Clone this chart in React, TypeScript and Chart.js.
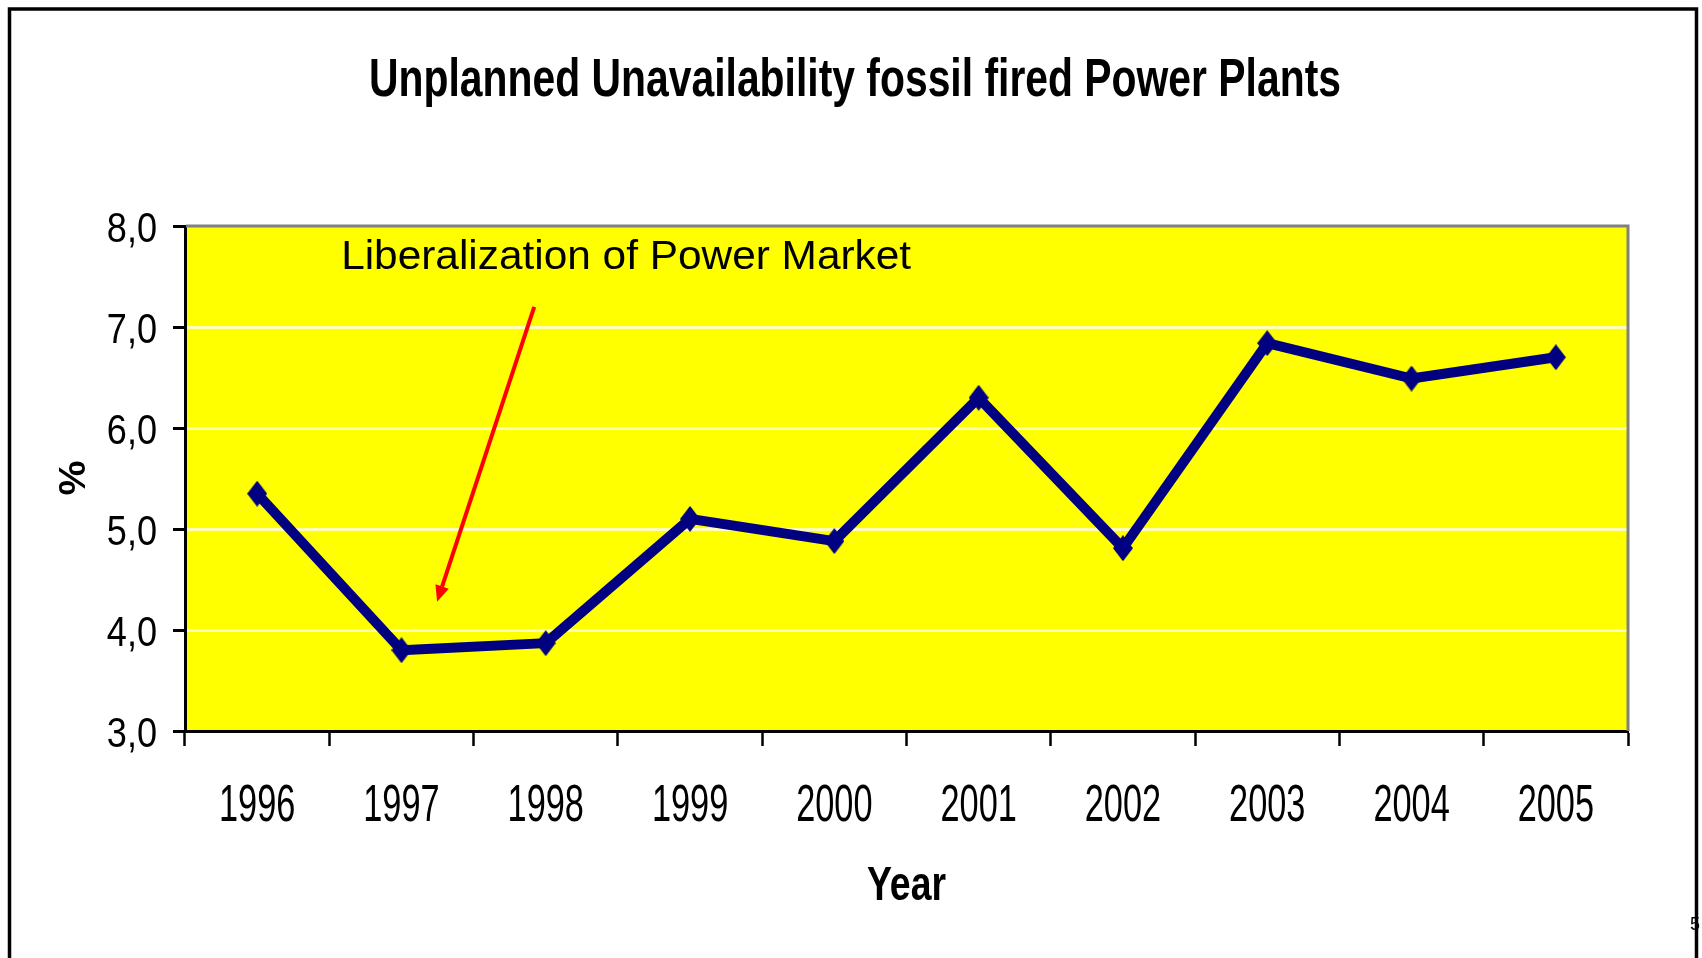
import React, { useEffect, useRef } from "react";
import { Chart, registerables } from "chart.js";

Chart.register(...registerables);

// ---------- data ----------
const years = ["1996", "1997", "1998", "1999", "2000", "2001", "2002", "2003", "2004", "2005"];
const unavailability = [5.35, 3.8, 3.87, 5.1, 4.88, 6.3, 4.81, 6.84, 6.49, 6.7];
const yMin = 3;
const yMax = 8;
const yStep = 1;

const chartTitle = "Unplanned Unavailability fossil fired Power Plants";
const xAxisTitle = "Year";
const yAxisTitle = "%";
const noteText = "Liberalization of Power Market";
// annotation anchors in data coordinates (category index, value)
const noteAnchor = { x: 0.582, y: 7.575 };
const arrowFrom = { x: 1.92, y: 7.2 };
const arrowTo = { x: 1.247, y: 4.28 };
const pageNumber = "5";

const FONT = '"Liberation Sans", Arial, Helvetica, sans-serif';

type TextOpts = {
  align?: CanvasTextAlign;
  scaleX?: number;
  fitWidth?: number;
  color?: string;
  rotate?: number;
};

function drawText(
  ctx: CanvasRenderingContext2D,
  text: string,
  x: number,
  y: number,
  font: string,
  opts: TextOpts = {}
) {
  ctx.save();
  ctx.font = font;
  const w = ctx.measureText(text).width;
  const sx = opts.fitWidth ? opts.fitWidth / w : opts.scaleX ?? 1;
  ctx.translate(x, y);
  if (opts.rotate) ctx.rotate(opts.rotate);
  ctx.scale(sx, 1);
  ctx.textAlign = opts.align ?? "left";
  ctx.textBaseline = "alphabetic";
  ctx.fillStyle = opts.color ?? "#000";
  ctx.fillText(text, 0, 0);
  ctx.restore();
}

function makeDiamond(): HTMLCanvasElement {
  const c = document.createElement("canvas");
  c.width = 20;
  c.height = 26;
  const g = c.getContext("2d")!;
  g.fillStyle = "#000080";
  g.beginPath();
  g.moveTo(10, 0);
  g.lineTo(20, 13);
  g.lineTo(10, 26);
  g.lineTo(0, 13);
  g.closePath();
  g.fill();
  return c;
}

const decorPlugin = {
  id: "decor",
  beforeDraw(chart: any) {
    const { ctx, chartArea: a } = chart;
    ctx.save();
    ctx.fillStyle = "#ffffff";
    ctx.fillRect(0, 0, chart.width, chart.height);
    ctx.fillStyle = "#FFFF00";
    ctx.fillRect(a.left, a.top, a.right - a.left, a.bottom - a.top);
    ctx.restore();
  },
  beforeDatasetsDraw(chart: any) {
    const { ctx, chartArea: a } = chart;
    ctx.save();
    ctx.strokeStyle = "#808080";
    ctx.lineWidth = 3;
    ctx.beginPath();
    ctx.moveTo(a.left + 1, a.top);
    ctx.lineTo(a.right, a.top);
    ctx.lineTo(a.right, a.bottom);
    ctx.stroke();
    ctx.restore();
  },
  afterDraw(chart: any) {
    const { ctx, chartArea: a } = chart;
    const xs = chart.scales.x;
    const ys = chart.scales.y;

    // y tick labels
    ys.ticks.forEach((t: any, i: number) => {
      const py = ys.getPixelForTick(i);
      drawText(ctx, String(t.label), a.left - 28, py + 15.5, `43px ${FONT}`, {
        align: "right",
        scaleX: 0.84,
      });
    });
    // x tick labels
    xs.ticks.forEach((t: any, i: number) => {
      const px = xs.getPixelForTick(i);
      drawText(ctx, String(t.label), px, a.bottom + 90, `52px ${FONT}`, {
        align: "center",
        scaleX: 0.66,
      });
    });

    // title
    drawText(ctx, chartTitle, 855, 95.5, `bold 54px ${FONT}`, {
      align: "center",
      fitWidth: 972,
    });
    // axis titles
    drawText(ctx, xAxisTitle, (a.left + a.right) / 2, 900, `bold 48px ${FONT}`, {
      align: "center",
      fitWidth: 79,
    });
    drawText(ctx, yAxisTitle, 85, 478, `bold 36px ${FONT}`, {
      align: "center",
      fitWidth: 35,
      rotate: -Math.PI / 2,
    });

    // annotation text
    drawText(
      ctx,
      noteText,
      xs.getPixelForValue(noteAnchor.x),
      ys.getPixelForValue(noteAnchor.y),
      `40px ${FONT}`,
      { align: "left", fitWidth: 570 }
    );

    // arrow
    const x1 = xs.getPixelForValue(arrowFrom.x);
    const y1 = ys.getPixelForValue(arrowFrom.y);
    const x2 = xs.getPixelForValue(arrowTo.x);
    const y2 = ys.getPixelForValue(arrowTo.y);
    const ang = Math.atan2(y2 - y1, x2 - x1);
    const headLen = 16;
    const headHalf = 7;
    const bx = x2 - headLen * Math.cos(ang);
    const by = y2 - headLen * Math.sin(ang);
    ctx.save();
    ctx.strokeStyle = "#FF0000";
    ctx.fillStyle = "#FF0000";
    ctx.lineWidth = 4;
    ctx.beginPath();
    ctx.moveTo(x1, y1);
    ctx.lineTo(bx, by);
    ctx.stroke();
    ctx.beginPath();
    ctx.moveTo(x2, y2);
    ctx.lineTo(bx + headHalf * Math.sin(ang), by - headHalf * Math.cos(ang));
    ctx.lineTo(bx - headHalf * Math.sin(ang), by + headHalf * Math.cos(ang));
    ctx.closePath();
    ctx.fill();
    ctx.restore();

    // page number (mostly hidden behind frame)
    drawText(ctx, pageNumber, 1690, 930, `18px ${FONT}`, { align: "left" });

    // outer frame
    ctx.save();
    ctx.strokeStyle = "#000";
    ctx.lineWidth = 3.5;
    ctx.beginPath();
    ctx.moveTo(9.5, chart.height + 10);
    ctx.lineTo(9.5, 9);
    ctx.lineTo(1696.5, 9);
    ctx.lineTo(1696.5, chart.height + 10);
    ctx.stroke();
    ctx.restore();
  },
};

export default function App() {
  const ref = useRef<HTMLCanvasElement | null>(null);

  useEffect(() => {
    if (!ref.current) return;
    const diamond = makeDiamond();
    const chart = new Chart(ref.current, {
      type: "line",
      data: {
        labels: years,
        datasets: [
          {
            data: unavailability,
            borderColor: "#000080",
            backgroundColor: "#000080",
            borderWidth: 10,
            borderJoinStyle: "bevel",
            pointStyle: diamond as any,
            pointRadius: 10,
            tension: 0,
            fill: false,
          },
        ],
      },
      options: {
        responsive: false,
        animation: false,
        events: [],
        layout: { padding: { left: 173, top: 226, right: 74, bottom: 212 } },
        plugins: {
          legend: { display: false },
          title: { display: false },
          tooltip: { enabled: false },
        },
        scales: {
          x: {
            type: "category",
            offset: true,
            grid: {
              display: true,
              offset: true,
              drawOnChartArea: false,
              drawTicks: true,
              tickLength: 15,
              tickColor: "#000",
              tickWidth: 2.5,
              color: "transparent",
            },
            border: { display: true, color: "#000", width: 3 },
            ticks: { display: false },
          },
          y: {
            min: yMin,
            max: yMax,
            grid: {
              color: (c: any) =>
                c.tick && (c.tick.value === yMin || c.tick.value === yMax)
                  ? "transparent"
                  : "rgba(255,255,255,0.72)",
              lineWidth: 3,
              drawTicks: true,
              tickLength: 12,
              tickColor: "#000",
              tickWidth: 3,
            },
            border: { display: true, color: "#000", width: 3 },
            ticks: {
              display: false,
              stepSize: yStep,
              callback: (v: any) => Number(v).toFixed(1).replace(".", ","),
            },
          },
        },
      },
      plugins: [decorPlugin],
    });
    return () => chart.destroy();
  }, []);

  return (
    <canvas
      ref={ref}
      width={1702}
      height={958}
      style={{ position: "fixed", left: 0, top: 0, width: 1702, height: 958 }}
    />
  );
}
